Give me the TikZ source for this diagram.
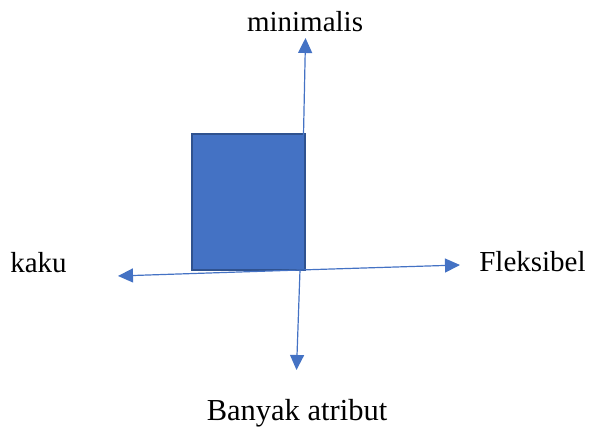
\documentclass[tikz,border=0pt]{standalone}
\usepackage{fontspec}
\setmainfont{Liberation Serif}
\usetikzlibrary{arrows.meta}
\definecolor{axisblue}{HTML}{4472C4}
\definecolor{boxedge}{HTML}{2F528F}
\tikzset{
  axis/.style={draw=axisblue, line width=1.2pt, -{Triangle[length=15pt,width=14pt]}},
  lbl/.style={font=\fontsize{29}{34}\selectfont, anchor=base, inner sep=0pt},
  boxfill/.style={fill=axisblue, draw=boxedge, line width=2.2pt}
}
\begin{document}
\begin{tikzpicture}[x=1pt,y=1pt]
\useasboundingbox (0,0) rectangle (589,427);
\node[boxfill, minimum width=113pt, minimum height=136pt, inner sep=0pt, anchor=south west] (box) at (191,156) {};
\coordinate (topstart) at (303.5,292);
\coordinate (uptip) at (305.5,389);
\coordinate (ctr) at (300,157);
\coordinate (downtip) at (296.5,57);
\coordinate (lefttip) at (118,151);
\coordinate (righttip) at (460,162);
\draw[axis] (topstart) -- (uptip);
\draw[axis] (ctr) -- (downtip);
\draw[axis] (ctr) -- (lefttip);
\draw[axis] (ctr) -- (righttip);
\node[lbl] (minimalis) at (305,395) {minimalis};
\node[lbl] (kaku) at (38.5,154) {kaku};
\node[lbl] (fleksibel) at (532.5,155) {Fleksibel};
\node[lbl, font=\fontsize{30.5}{36}\selectfont] (banyak) at (297,6) {Banyak atribut};
\end{tikzpicture}
\end{document}
